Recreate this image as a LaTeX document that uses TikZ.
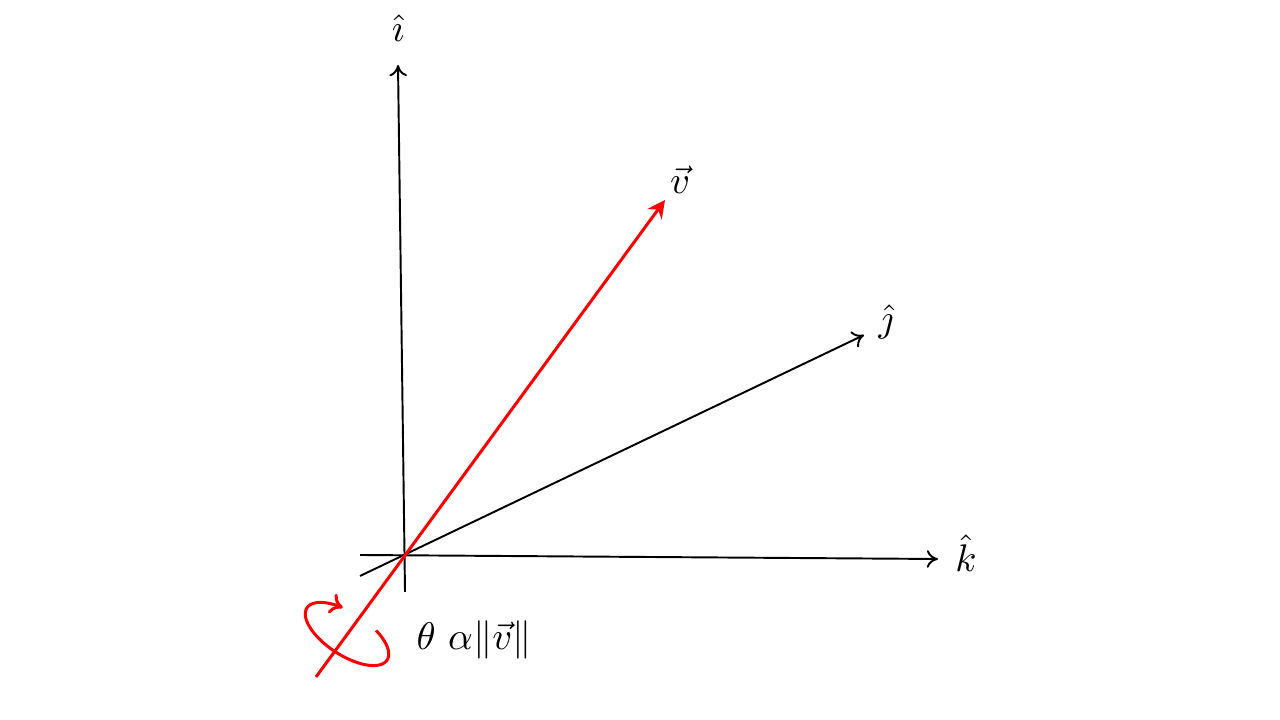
\documentclass[tikz,border=0pt]{standalone}
\usetikzlibrary{arrows.meta}
\begin{document}
\begin{tikzpicture}[
  axis/.style={black, line width=0.55pt, -{To[length=3.2pt,width=5pt]}},
  vecline/.style={red, line width=0.85pt, -{Stealth[length=5pt,width=5pt]}},
  rotarrow/.style={red, line width=0.85pt, -{To[length=3.5pt,width=6pt]}},
  lbl/.style={font=\fontsize{11}{13}\selectfont, inner sep=1pt}
]
\useasboundingbox (0,0) rectangle (12.8,7.2);
% coordinates
\coordinate (O) at (4.04,1.65);
\coordinate (i0) at (4.05,1.28);
\coordinate (i1) at (3.98,6.55);
\coordinate (k0) at (3.60,1.65);
\coordinate (k1) at (9.38,1.61);
\coordinate (j0) at (3.60,1.44);
\coordinate (j1) at (8.64,3.85);
\coordinate (v0) at (3.16,0.43);
\coordinate (v1) at (6.65,5.20);
% axes
\draw[axis] (i0) -- (i1);
\draw[axis] (k0) -- (k1);
\draw[axis] (j0) -- (j1);
% rotation arrow (elliptical arc)
\draw[rotarrow] plot[domain=0:310, samples=90, smooth]
  ({3.47 + 0.478*cos(62-\x)*cos(-33) - 0.213*sin(62-\x)*sin(-33)},
   {0.86 + 0.478*cos(62-\x)*sin(-33) + 0.213*sin(62-\x)*cos(-33)});
% vector
\draw[vecline] (v0) -- (v1);
% labels
\node[lbl] (li) at (3.98,6.92) {$\hat{\imath}$};
\node[lbl] (lv) at (6.80,5.40) {$\vec{v}$};
\node[lbl] (lj) at (8.86,3.98) {$\hat{\jmath}$};
\node[lbl] (lk) at (9.66,1.67) {$\hat{k}$};
\node[lbl] (lt) at (4.74,0.80) {$\theta\ \alpha\|\vec{v}\|$};
\end{tikzpicture}
\end{document}
